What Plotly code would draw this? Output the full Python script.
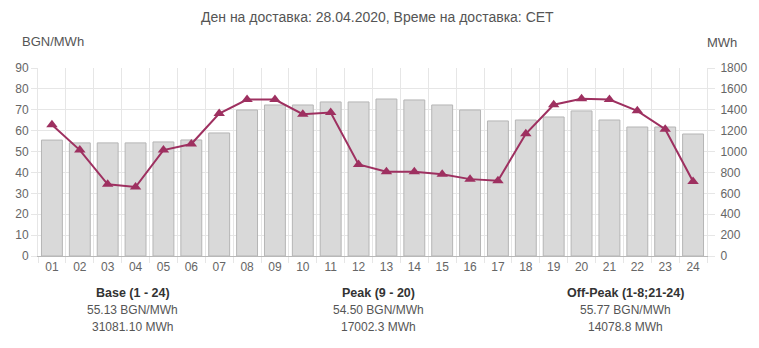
import plotly.graph_objects as go

# Hourly delivery data
hours = [f"{h:02d}" for h in range(1, 25)]
price_bgn = [62.8, 50.7, 34.3, 33.0, 50.7, 53.6, 68.2, 74.9,
             74.9, 67.9, 68.7, 43.8, 40.3, 40.3, 39.1, 36.8,
             36.0, 58.5, 72.4, 75.3, 74.9, 69.5, 60.7, 35.7]
volume_mwh = [1110, 1083, 1083, 1083, 1092, 1111, 1178, 1398,
              1446, 1446, 1475, 1475, 1503, 1494, 1446, 1398,
              1293, 1302, 1331, 1389, 1302, 1235, 1235, 1168]

summary_titles = ["Base (1 - 24)", "Peak (9 - 20)", "Off-Peak (1-8;21-24)"]
summary_prices = ["55.13 BGN/MWh", "54.50 BGN/MWh", "55.77 BGN/MWh"]
summary_volumes = ["31081.10 MWh", "17002.3 MWh", "14078.8 MWh"]
summary_centers_px = [133, 380, 628]

title_text = "Ден на доставка: 28.04.2020, Време на доставка: CET"

W, H = 759, 348
L, R, T, B = 38, 49, 68, 92
plot_w = W - L - R
plot_h = H - T - B

FONT = "Liberation Sans, Arial, sans-serif"
GRID = "#e6e6e6"
TXT = "#666666"
LINE_COLOR = "#9e3060"

fig = go.Figure()

# volume bars on the right-hand axis (base axis, drawn underneath)
fig.add_trace(go.Bar(
    x=hours, y=volume_mwh, yaxis="y",
    marker=dict(color="#d9d9d9", line=dict(color="#b5b5b5", width=1)),
    hoverinfo="skip",
))

# price line on the left-hand axis (overlay, drawn on top)
fig.add_trace(go.Scatter(
    x=hours, y=price_bgn, yaxis="y2",
    mode="lines+markers",
    line=dict(color=LINE_COLOR, width=2),
    marker=dict(symbol="triangle-up", size=10, color=LINE_COLOR),
    hoverinfo="skip",
))

annotations = [
    dict(text=title_text, x=0.5, y=17, showarrow=False,
         font=dict(size=14, color="#555555", family=FONT), xanchor="center", yanchor="middle"),
    dict(text="BGN/MWh", x=20, y=42, showarrow=False,
         font=dict(size=13, color="#555555", family=FONT), xanchor="left", yanchor="middle"),
    dict(text="MWh", x=742, y=43, showarrow=False,
         font=dict(size=13, color="#555555", family=FONT), xanchor="right", yanchor="middle"),
]

for t, p, v, cx in zip(summary_titles, summary_prices, summary_volumes, summary_centers_px):
    annotations.append(dict(text=f"<b>{t}</b>", x=cx, y=293, showarrow=False,
                            font=dict(size=12.5, color="#333333", family=FONT),
                            xanchor="center", yanchor="middle"))
    annotations.append(dict(text=p, x=cx, y=310, showarrow=False,
                            font=dict(size=12, color="#555555", family=FONT),
                            xanchor="center", yanchor="middle"))
    annotations.append(dict(text=v, x=cx, y=327, showarrow=False,
                            font=dict(size=12, color="#555555", family=FONT),
                            xanchor="center", yanchor="middle"))

# convert pixel positions to paper coordinates
for a in annotations:
    a["x"] = (a["x"] - L) / plot_w if a["x"] > 1 else a["x"]
    a["y"] = (H - B - a["y"]) / plot_h
    a["xref"] = "paper"
    a["yref"] = "paper"
annotations[0]["x"] = (W / 2 - L) / plot_w

fig.update_layout(
    width=W, height=H,
    margin=dict(l=L, r=R, t=T, b=B),
    paper_bgcolor="white", plot_bgcolor="white",
    showlegend=False,
    bargap=0.25,
    font=dict(family=FONT, color=TXT, size=12),
    xaxis=dict(
        type="category", tickson="boundaries",
        range=[-0.5, 23.5],
        showgrid=True, gridcolor=GRID, gridwidth=1,
        ticks="outside", ticklen=6, tickcolor=GRID,
        showline=True, linecolor="#b8b8b8", linewidth=1,
        tickfont=dict(size=12, color=TXT, family=FONT),
    ),
    yaxis=dict(
        range=[0, 1800], dtick=200, side="right",
        showgrid=True, gridcolor=GRID, gridwidth=1,
        zeroline=False,
        ticks="outside", ticklen=7, tickcolor=GRID,
        ticklabelstandoff=3,
        showline=True, linecolor=GRID,
        tickfont=dict(size=12, color=TXT, family=FONT),
    ),
    yaxis2=dict(
        range=[0, 90], dtick=10, overlaying="y", side="left",
        showgrid=False, zeroline=False,
        ticks="outside", ticklen=6, tickcolor=GRID,
        showline=True, linecolor=GRID,
        tickfont=dict(size=12, color=TXT, family=FONT),
    ),
    annotations=annotations,
)

fig.write_html("out.html")
